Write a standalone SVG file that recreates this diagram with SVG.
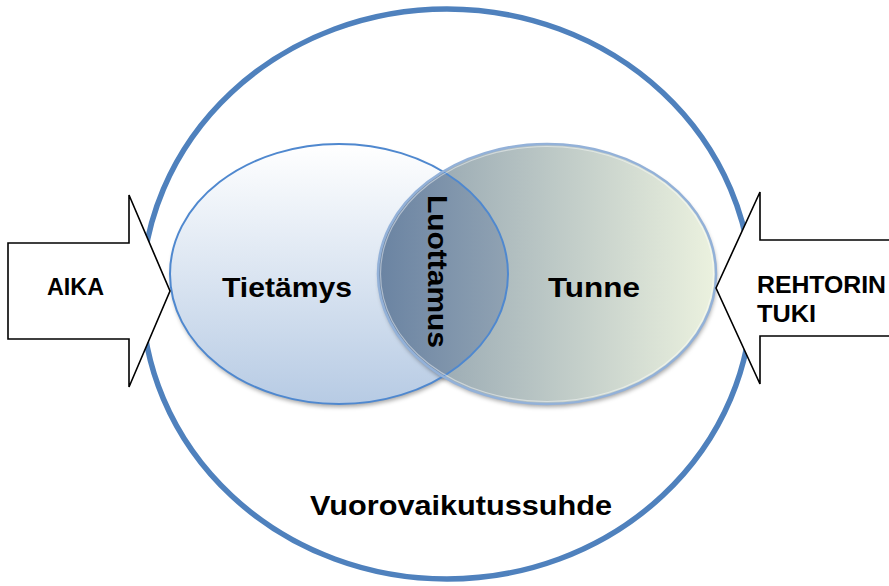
<svg xmlns="http://www.w3.org/2000/svg" width="889" height="586" viewBox="0 0 889 586">
  <style>
    .lbl { font-family: "Liberation Sans", Arial, sans-serif; font-weight: bold; fill: #000; }
    .small { font-size: 23px; }
    .big { font-size: 28px; }
    .arrow { fill: #fff; stroke: #000; stroke-width: 1.6; stroke-linejoin: miter; }
  </style>
  <defs>
    <linearGradient id="gKnow" x1="0" y1="0" x2="0" y2="1">
      <stop offset="0" stop-color="#ffffff"/>
      <stop offset="1" stop-color="#b7cbe4"/>
    </linearGradient>
    <linearGradient id="gFeel" gradientUnits="userSpaceOnUse" x1="378" y1="0" x2="717" y2="0">
      <stop offset="0" stop-color="#8a9cab"/>
      <stop offset="1" stop-color="#ecf2df"/>
    </linearGradient>
    <linearGradient id="gTrust" gradientUnits="userSpaceOnUse" x1="378" y1="0" x2="510" y2="0">
      <stop offset="0" stop-color="#6a83a2"/>
      <stop offset="1" stop-color="#91a3b3"/>
    </linearGradient>
    <clipPath id="clipKnow">
      <ellipse cx="339" cy="274" rx="169" ry="130"/>
    </clipPath>
    <filter id="shadow" x="-10%" y="-10%" width="120%" height="125%">
      <feDropShadow dx="1" dy="3" stdDeviation="2" flood-color="#000" flood-opacity="0.35"/>
    </filter>
  </defs>

  <!-- outer relationship ring -->
  <g id="vuorovaikutussuhde">
    <ellipse cx="447" cy="294" rx="305" ry="285" fill="none" stroke="#4f81bd" stroke-width="5.5"/>
    <text class="lbl big" x="310" y="515" textLength="302" lengthAdjust="spacingAndGlyphs">Vuorovaikutussuhde</text>
  </g>

  <!-- knowledge circle -->
  <g id="tietamys">
    <ellipse cx="339" cy="274" rx="169" ry="130" fill="url(#gKnow)" filter="url(#shadow)"/>
  </g>

  <!-- emotion circle -->
  <g id="tunne">
    <ellipse cx="547" cy="274" rx="169" ry="130" fill="url(#gFeel)" filter="url(#shadow)"/>
  </g>

  <!-- trust: intersection of the two circles -->
  <g id="luottamus">
    <ellipse cx="547" cy="274" rx="169" ry="130" fill="url(#gTrust)" clip-path="url(#clipKnow)"/>
  </g>

  <!-- outlines -->
  <ellipse cx="339" cy="274" rx="169" ry="130" fill="none" stroke="#4f88cf" stroke-width="2"/>
  <ellipse cx="547" cy="274" rx="169" ry="130" fill="none" stroke="#93b1d8" stroke-width="2.5"/>
  <ellipse cx="547" cy="274" rx="166.5" ry="127.5" fill="none" stroke="#ffffff" stroke-opacity="0.45" stroke-width="1.2"/>

  <text class="lbl big" x="222" y="297" textLength="130" lengthAdjust="spacingAndGlyphs">Tietämys</text>
  <text class="lbl big" x="548" y="297" textLength="92" lengthAdjust="spacingAndGlyphs">Tunne</text>
  <text class="lbl big" transform="translate(428,195) rotate(90)" textLength="153" lengthAdjust="spacingAndGlyphs">Luottamus</text>

  <!-- block arrows -->
  <g id="connectors">
    <g id="aika">
      <path class="arrow" d="M8,243 H129 V195 L170,291 L129,387 V339 H8 Z"/>
      <text class="lbl small" x="47" y="295" textLength="57" lengthAdjust="spacingAndGlyphs">AIKA</text>
    </g>
    <g id="rehtorin-tuki">
      <path class="arrow" d="M716,288 L760,192 V240 H896 V336 H760 V384 Z"/>
      <text class="lbl small" x="757" y="293" textLength="129" lengthAdjust="spacingAndGlyphs">REHTORIN</text>
      <text class="lbl small" x="757" y="322" textLength="59" lengthAdjust="spacingAndGlyphs">TUKI</text>
    </g>
  </g>
</svg>
